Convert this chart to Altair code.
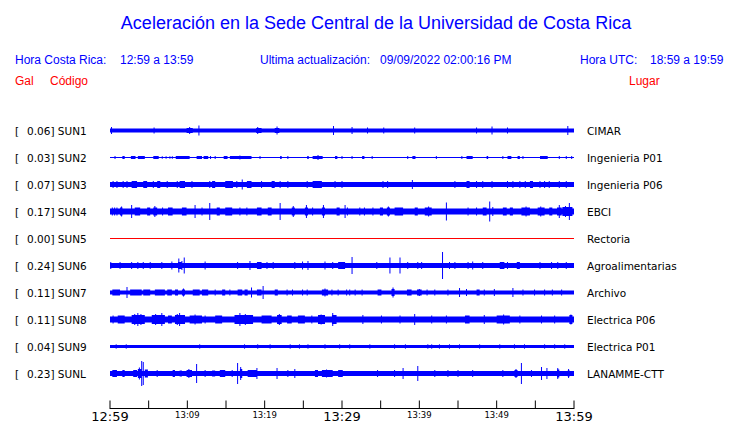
import altair as alt
import pandas as pd

# ---------------- data ----------------
CODES = ["SUN1", "SUN2", "SUN3", "SUN4", "SUN5", "SUN6", "SUN7", "SUN8", "SUN9", "SUNL"]
PEAKS = ["0.06", "0.03", "0.07", "0.17", "0.00", "0.24", "0.11", "0.11", "0.04", "0.23"]
PLACES = ["CIMAR", "Ingenieria P01", "Ingenieria P06", "EBCI", "Rectoria",
          "Agroalimentarias", "Archivo", "Electrica P06", "Electrica P01", "LANAMME-CTT"]
# background (noise) half amplitude of every trace, relative units
NOISE = [2, 0.5, 2.5, 3, 0.5, 2.5, 2, 3, 1.5, 2.5]

# events: (minute, half amplitude) for single peaks, (start, end, half amplitude) for bursts
SUN1_EV = [(0.2, 3.5), (5.7, 3), (9.9, 10.7, 2.5), (10.3, 3.5), (11.5, 5), (18.9, 19.6, 2.5),
           (19.1, 3.5), (21.3, 21.9, 2.5), (21.6, 4), (28.9, 4.5), (31.3, 3.5), (33.3, 3),
           (35.4, 3), (39.4, 3), (47.4, 3), (49.4, 4), (51.4, 3), (59.2, 4.5)]
SUN2_EV = [(0.65, 1.5), (1.6, 1.9, 1.5), (2.7, 3.3, 1.5), (3.6, 4.5, 1.5), (5.6, 6.3, 1.5),
           (6.7, 6.8, 1.5), (7.2, 7.3, 1.5), (7.7, 7.8, 1.5), (8.0, 8.1, 1.5), (8.5, 10.3, 1.5),
           (11.2, 11.9, 1.5), (12.1, 12.7, 1.5), (13.0, 1.5), (13.6, 1.5), (14.7, 15.2, 1.5),
           (15.5, 18.3, 1.5), (16.8, 2), (19.4, 1.5), (22.0, 22.2, 1.5), (23.0, 1.5),
           (25.5, 25.7, 1.5), (26.2, 27.5, 1.5), (26.9, 2.5), (29.1, 29.4, 1.5), (30.0, 1.5),
           (31.3, 1.5), (32.6, 32.9, 1.5), (33.9, 1.5), (38.5, 1.5), (39.1, 39.5, 1.5), (42.2, 1.5),
           (45.5, 1.5), (46.1, 46.9, 1.5), (48.7, 48.9, 1.5), (50.8, 1.5), (51.4, 51.9, 1.5),
           (52.7, 53.0, 1.5), (53.4, 1.5), (55.6, 56.6, 1.5), (58.1, 1.5), (59.0, 1.5), (59.7, 1.5)]
SUN3_EV = [(0.4, 3.5), (0.9, 3.5), (1.7, 3.5), (2.2, 3.5), (2.8, 3.5, 3.5), (4.3, 4.8, 3.5),
           (5.6, 3.5), (6.1, 6.5, 3.5), (7.4, 3.5), (8.7, 3.5), (9.0, 9.7, 3.5), (10.6, 3.5),
           (12.9, 3.5), (13.2, 13.6, 3.5), (14.9, 15.9, 3.5), (16.4, 3.5), (17.1, 5),
           (17.7, 18.3, 3.5), (19.6, 3.5), (20.9, 21.3, 3.5), (22.0, 3.5), (23.0, 3.5),
           (25.5, 3.5), (26.2, 27.4, 3.5), (29.1, 3.5), (30.0, 3.5), (35.3, 3.5), (35.9, 3.5),
           (39.1, 4.5), (44.6, 3.5), (46.1, 46.5, 3.5), (47.4, 3.5), (48.2, 3.5), (49.4, 3.5),
           (51.4, 3.5), (52.1, 3.5), (53.0, 3.5), (53.7, 3.5), (54.3, 54.7, 3.5), (55.6, 3.5),
           (56.2, 3.5), (56.8, 3.5), (58.1, 3.5), (59.0, 3.5)]
SUN4_EV = [(0.3, 4), (0.6, 4), (0.9, 4), (1.3, 1.6, 4), (1.5, 5), (2.8, 6.5), (3.2, 3.9, 4),
           (4.8, 5.2, 4), (5.6, 6.1, 4), (5.8, 5.5), (6.8, 4), (7.5, 8.1, 4), (9.3, 9.9, 4),
           (11.0, 6.5), (11.9, 4), (12.9, 8.5), (13.8, 14.2, 4), (14.9, 15.8, 4), (16.8, 4),
           (17.7, 4), (19.0, 19.6, 4), (20.4, 20.9, 4), (22.0, 8.5), (23.5, 23.9, 4), (23.7, 5.5),
           (25.2, 25.6, 4), (25.4, 6.5), (26.2, 4), (27.4, 27.8, 4), (27.6, 6.5), (29.3, 29.7, 4),
           (30.4, 6.5), (30.7, 4), (32.3, 4), (32.9, 4), (34.0, 4), (34.9, 35.3, 4),
           (35.8, 36.2, 4), (36.0, 5), (36.8, 37.9, 4), (39.4, 39.8, 4), (40.7, 41.6, 4),
           (41.2, 5), (43.5, 9), (46.3, 4), (47.4, 4), (48.2, 48.7, 4), (49.1, 10), (49.5, 4.5),
           (50.8, 51.3, 4), (51.7, 52.1, 4), (53.2, 54.3, 4), (53.8, 5), (55.3, 56.2, 4),
           (55.7, 5), (56.8, 57.2, 4), (57.8, 58.4, 4), (58.1, 6.5), (58.5, 59.8, 4.5), (58.9, 5.5),
           (59.4, 8.5)]
SUN5_EV = []
SUN6_EV = [(0.1, 3.5), (1.3, 3.5), (2.8, 3.5), (3.6, 3.5), (4.3, 3.5), (5.2, 3.5), (6.7, 3.5),
           (8.0, 4), (8.8, 9.3, 3.5), (8.9, 7), (9.3, 4.5), (9.6, 8), (12.3, 4), (16.5, 3.5),
           (18.1, 4.5), (19.0, 19.6, 3.5), (20.3, 3.5), (21.1, 3.5), (23.9, 3.5), (24.9, 4),
           (25.6, 4.5), (27.8, 4), (28.8, 3.5), (29.5, 30.4, 3.5), (31.3, 8.5), (34.5, 3.5),
           (36.2, 8), (37.5, 8), (38.5, 3.5), (39.8, 3.5), (40.3, 3.5), (43.0, 13.5), (43.9, 3.5),
           (44.6, 3.5), (46.3, 3.5), (46.9, 4), (48.2, 3.5), (50.4, 51.0, 3.5), (51.4, 3.5),
           (52.6, 53.0, 3.5), (55.6, 3.5), (57.1, 3.5), (57.9, 3.5), (59.0, 3.5)]
SUN7_EV = [(0.3, 1.3, 3), (2.2, 5.5), (2.6, 4.1, 3), (4.3, 5.2, 3), (5.8, 7.1, 3), (7.4, 8.0, 3),
           (8.4, 8.8, 3), (9.3, 9.7, 3), (9.5, 4), (10.7, 11.6, 3), (11.9, 12.7, 3), (13.6, 3),
           (14.5, 14.9, 3), (15.5, 3), (16.5, 17.1, 3), (17.4, 17.8, 3), (18.3, 5), (19.0, 19.6, 3),
           (19.8, 6.5), (21.3, 21.7, 3), (22.9, 3), (23.6, 3), (24.9, 3), (25.5, 3),
           (27.4, 28.2, 3), (27.8, 4), (28.7, 3), (29.5, 3), (30.6, 3), (31.0, 3), (31.7, 3),
           (32.6, 3), (34.6, 35.1, 3), (36.4, 36.8, 3.5), (36.6, 5), (38.4, 39.0, 3),
           (39.7, 40.3, 3), (40.0, 3.5), (41.0, 3), (42.0, 3), (43.7, 3), (45.2, 4.5), (46.1, 3.5),
           (47.4, 47.8, 3), (48.4, 3), (49.7, 3.5), (52.1, 4.5), (53.4, 3), (54.9, 3), (56.2, 3),
           (57.2, 3), (58.4, 3)]
SUN8_EV = [(0.4, 4), (1.0, 1.9, 4), (2.8, 4.5, 4.5), (3.6, 6.5), (3.2, 5.5), (4.0, 5.5),
           (5.4, 7.1, 4.5), (6.7, 6.5), (5.9, 5.5), (7.5, 8.0, 4), (8.4, 9.7, 4.5), (9.0, 6.5),
           (8.7, 5.5), (10.3, 11.9, 4), (11.0, 5), (12.3, 4), (13.6, 14.5, 4), (16.1, 18.5, 4.5),
           (16.8, 6.5), (17.5, 5.5), (19.6, 20.9, 4), (21.6, 22.2, 4.5), (21.9, 5.5),
           (22.9, 23.5, 4), (24.3, 25.2, 4), (26.1, 4), (26.9, 27.8, 4.5), (27.3, 5),
           (28.7, 29.3, 4.5), (28.8, 6.5), (32.7, 4.5), (35.1, 4), (37.5, 4), (39.4, 5.5), (41.6, 4),
           (43.5, 4), (45.9, 46.5, 4), (48.4, 4.5), (50.0, 51.7, 4), (50.9, 5), (53.0, 4),
           (55.8, 4), (57.5, 4), (59.4, 59.8, 4.5), (59.6, 5)]
SUN9_EV = [(0.8, 2.2), (2.1, 2.2), (11.6, 2.2), (17.4, 2.2), (19.1, 2.2), (20.7, 2.2),
           (23.3, 2.2), (24.5, 2.2), (25.6, 2.2), (27.8, 2.2), (29.7, 2.2), (31.0, 2.2),
           (33.6, 2.2), (36.8, 2.2), (38.2, 2.2), (41.1, 2.2), (41.6, 2.2), (42.6, 2.2),
           (43.9, 2.2), (45.2, 2.2), (47.8, 2.2), (50.4, 2.2), (52.3, 2.2), (53.6, 2.2),
           (56.2, 2.2), (57.5, 2.2), (58.8, 2.2)]
SUNL_EV = [(0.3, 0.9, 3.5), (1.6, 1.9, 3.5), (3.0, 3.5, 3.5), (3.6, 4.1, 4.5), (3.8, 6),
           (4.1, 12.5), (4.3, 11.5), (4.5, 4.9, 4), (6.1, 3.5), (8.1, 8.4, 3.5), (9.0, 9.3, 3),
           (9.9, 10.6, 3.5), (10.2, 4.5), (11.2, 9.5), (12.3, 3.5), (13.2, 13.6, 3),
           (14.2, 14.9, 3.5), (15.8, 3.5), (16.5, 10.5), (16.8, 17.1, 4.5), (16.9, 6.5),
           (17.8, 19.0, 3.5), (19.0, 5.5), (21.6, 5.5), (23.0, 3.5), (23.9, 4.5), (26.5, 26.9, 3.5),
           (27.4, 28.8, 3.5), (28.0, 4), (29.5, 30.1, 3.5), (34.6, 3.5), (36.8, 3.5), (37.9, 5.5),
           (39.8, 7.5), (42.0, 3.5), (43.7, 3.5), (45.0, 3.5), (46.9, 3.5), (50.8, 3.5),
           (52.3, 52.7, 3.5), (52.5, 4.5), (53.2, 10.5), (54.5, 3.5), (55.8, 6.5), (56.5, 5.5),
           (57.8, 58.1, 4), (57.9, 5.5), (59.2, 59.4, 3.5), (59.3, 4.5)]
EVENTS = [SUN1_EV, SUN2_EV, SUN3_EV, SUN4_EV, SUN5_EV, SUN6_EV, SUN7_EV, SUN8_EV, SUN9_EV, SUNL_EV]

TICK_MIN = [0, 5, 10, 15, 20, 25, 30, 35, 40, 45, 50, 55, 60]
LABEL_MIN = [0, 10, 20, 30, 40, 50, 60]
LABEL_TXT = ["12:59", "13:09", "13:19", "13:29", "13:39", "13:49", "13:59"]
LABEL_MAJOR = [True, False, False, True, False, False, True]

# ---------------- styling constants ----------------
BLUE = "#0000ff"
RED = "#ff0000"
SPACING = 27.0          # px between traces (relative amplitude unit = 1px)
YMAX = 306 / SPACING
SHIFT = 0.5 / SPACING   # half-pixel shift for crisp thin lines
HFONT = "Liberation Sans"
LFONT = "DejaVu Sans"

rects, spikes = [], []
for i, (code, evs) in enumerate(zip(CODES, EVENTS)):
    c = i + 1
    col = RED if code == "SUN5" else BLUE
    rects.append(dict(t0=0, t1=60, y0=c - NOISE[i] / SPACING, y1=c + NOISE[i] / SPACING, color=col))
    for e in evs:
        if len(e) == 2:
            t, a = e
            spikes.append(dict(t0=t, y0=c - a / SPACING, y1=c + a / SPACING, color=col))
        else:
            t0, t1, a = e
            rects.append(dict(t0=t0, t1=t1, y0=c - a / SPACING, y1=c + a / SPACING, color=col))
rect_df = pd.DataFrame(rects)
spike_df = pd.DataFrame(spikes)

xs = alt.Scale(domain=[0, 60], nice=False, zero=False)
ys = alt.Scale(domain=[-SHIFT, YMAX - SHIFT], nice=False, zero=False, reverse=True)

band = alt.Chart(rect_df).mark_rect().encode(
    x=alt.X("t0:Q", scale=xs, axis=None), x2="t1:Q",
    y=alt.Y("y0:Q", scale=ys, axis=None), y2="y1:Q",
    color=alt.Color("color:N", scale=None))
peaks = alt.Chart(spike_df).mark_rule(strokeWidth=1).encode(
    x=alt.X("t0:Q", scale=xs, axis=None),
    y=alt.Y("y0:Q", scale=ys, axis=None), y2="y1:Q",
    color=alt.Color("color:N", scale=None))

lab_df = pd.DataFrame({"yc": [i + 1 for i in range(len(CODES))],
                       "left": [f"{p}] {c}" for p, c in zip(PEAKS, CODES)],
                       "place": PLACES})
bracket = alt.Chart(lab_df).mark_text(text="[", align="left", baseline="middle", font=LFONT,
                                      fontSize=10.5, color="black", dy=1).encode(
    x=alt.value(-95), y=alt.Y("yc:Q", scale=ys, axis=None))
left_lab = alt.Chart(lab_df).mark_text(align="left", baseline="middle", font=LFONT,
                                       fontSize=10.5, color="black", dy=1).encode(
    x=alt.value(-83), y=alt.Y("yc:Q", scale=ys, axis=None), text="left:N")
right_lab = alt.Chart(lab_df).mark_text(align="left", baseline="middle", font=LFONT,
                                        fontSize=10.5, color="black", dy=1).encode(
    x=alt.value(477), y=alt.Y("yc:Q", scale=ys, axis=None), text="place:N")

# time axis
axis_df = pd.DataFrame({"a": [0], "b": [60], "y": [YMAX - SHIFT - 0.5 / SPACING]})
axis_line = alt.Chart(axis_df).mark_rule(color="black", strokeWidth=1).encode(
    x=alt.X("a:Q", scale=xs, axis=None), x2="b:Q", y=alt.Y("y:Q", scale=ys, axis=None))
tick_df = pd.DataFrame({"t": TICK_MIN, "ya": [YMAX - 9 / SPACING] * len(TICK_MIN),
                        "yb": [YMAX - SHIFT] * len(TICK_MIN)})
ticks = alt.Chart(tick_df).mark_rule(color="black", strokeWidth=1).encode(
    x=alt.X("t:Q", scale=xs, axis=None), y=alt.Y("ya:Q", scale=ys, axis=None), y2="yb:Q")
tl_df = pd.DataFrame({"t": LABEL_MIN, "txt": LABEL_TXT, "major": LABEL_MAJOR})
big_lab = alt.Chart(tl_df).transform_filter("datum.major").mark_text(
    font=LFONT, fontSize=13, align="center", baseline="alphabetic", color="black").encode(
    x=alt.X("t:Q", scale=xs, axis=None), y=alt.value(317.7), text="txt:N")
small_lab = alt.Chart(tl_df).transform_filter("!datum.major").mark_text(
    font=LFONT, fontSize=8.5, align="center", baseline="alphabetic", color="black").encode(
    x=alt.X("t:Q", scale=xs, axis=None), y=alt.value(315), text="txt:N")


def hdr(text, x, y, color, size, align="left"):
    return alt.Chart(pd.DataFrame({"s": [text]})).mark_text(
        text=text, font=HFONT, fontSize=size, color=color, align=align, baseline="middle"
    ).encode(x=alt.value(x), y=alt.value(y))


headers = [
    hdr("Aceleración en la Sede Central de la Universidad de Costa Rica", 266, -79, BLUE, 18, "center"),
    hdr("Hora Costa Rica:", -95, -43, BLUE, 12),
    hdr("12:59 a 13:59", 10, -43, BLUE, 12),
    hdr("Ultima actualización:", 150, -43, BLUE, 12),
    hdr("09/09/2022 02:00:16 PM", 270, -43, BLUE, 12),
    hdr("Hora UTC:", 470, -43, BLUE, 12),
    hdr("18:59 a 19:59", 540, -43, BLUE, 12),
    hdr("Gal", -95, -22, RED, 12),
    hdr("Código", -60, -22, RED, 12),
    hdr("Lugar", 519, -22, RED, 12),
]

chart = alt.layer(band, peaks, bracket, left_lab, right_lab, axis_line, ticks, big_lab, small_lab,
                  *headers).properties(
    width=464, height=306, autosize="none",
    padding={"left": 102, "top": 95, "right": 158, "bottom": 14},
).configure_view(stroke=None)

chart.save("out.html", embed_options={"renderer": "svg", "actions": False})
